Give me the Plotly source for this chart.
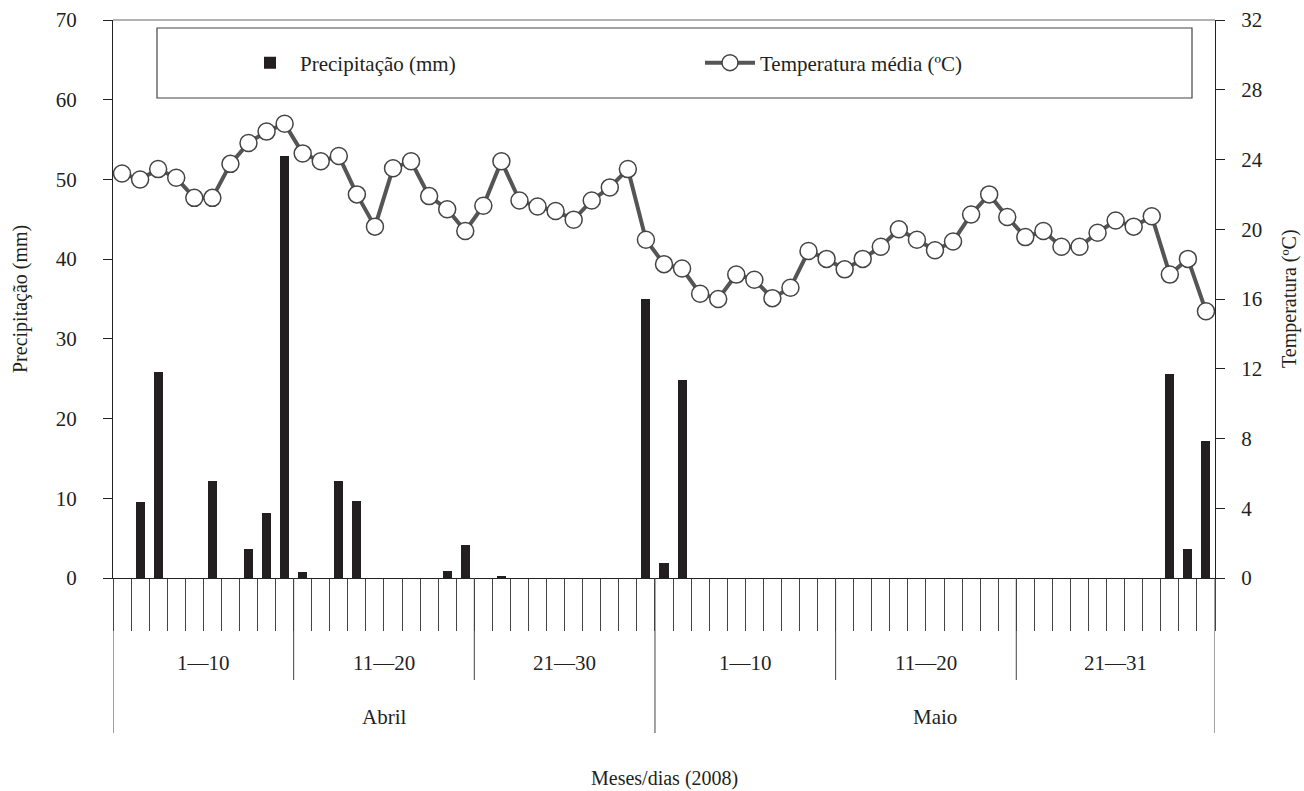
import plotly.graph_objects as go

# ---------------- data ----------------
months = ["Abril", "Maio"]
days_per_month = [30, 31]
groups = ["1—10", "11—20", "21—30", "1—10", "11—20", "21—31"]
group_sizes = [10, 10, 10, 10, 10, 11]

precip_abril = [0, 9.5, 25.8, 0, 0, 12.2, 0, 3.6, 8.1, 52.9,
                0.7, 0, 12.2, 9.7, 0, 0, 0, 0, 0.9, 4.2,
                0, 0.3, 0, 0, 0, 0, 0, 0, 0, 35.0]
precip_maio = [1.9, 24.9, 0, 0, 0, 0, 0, 0, 0, 0,
               0, 0, 0, 0, 0, 0, 0, 0, 0, 0,
               0, 0, 0, 0, 0, 0, 0, 0, 25.6, 3.7, 17.2]

temp_abril = [23.2, 22.85, 23.45, 22.95, 21.8, 21.8, 23.75, 24.95, 25.6, 26.05,
              24.35, 23.9, 24.2, 22.0, 20.15, 23.5, 23.9, 21.9, 21.15, 19.9,
              21.35, 23.9, 21.65, 21.3, 21.05, 20.55, 21.65, 22.4, 23.45, 19.4]
temp_maio = [18.0, 17.75, 16.3, 16.0, 17.4, 17.1, 16.05, 16.65, 18.75, 18.3,
             17.7, 18.3, 19.0, 20.0, 19.4, 18.8, 19.3, 20.85, 22.0, 20.7,
             19.55, 19.9, 19.0, 19.0, 19.8, 20.5, 20.15, 20.75, 17.4, 18.3, 15.3]

precip = precip_abril + precip_maio
temp = temp_abril + temp_maio
n_days = len(precip)
xpos = [i + 0.5 for i in range(n_days)]

FONT = "Liberation Serif"
TXT = "#231f20"

fig = go.Figure()
fig.add_trace(go.Bar(
    x=xpos, y=precip, width=0.5, name="Precipitação (mm)",
    marker=dict(color="#231f20", line=dict(width=0)), yaxis="y"))
fig.add_trace(go.Scatter(
    x=xpos, y=temp, mode="lines+markers", name="Temperatura média (ºC)",
    line=dict(color="#555555", width=4),
    marker=dict(size=17, color="white", line=dict(color="#444444", width=1.5)),
    yaxis="y2"))

shapes = []
annotations = []

month_bounds = [0]
for d in days_per_month:
    month_bounds.append(month_bounds[-1] + d)
group_bounds = [0]
for g in group_sizes:
    group_bounds.append(group_bounds[-1] + g)

H = 558.0
W = 1102.0
for b in group_bounds:
    if b in month_bounds:
        continue
    shapes.append(dict(type="line", xref="x", yref="paper", x0=b, x1=b,
                       y0=0, y1=-(680 - 578) / H, line=dict(color="#444", width=1)))
for b in month_bounds:
    shapes.append(dict(type="line", xref="x", yref="paper", x0=b, x1=b,
                       y0=0, y1=-(733 - 578) / H, line=dict(color="#444", width=1)))

for i, g in enumerate(groups):
    c = (group_bounds[i] + group_bounds[i + 1]) / 2
    annotations.append(dict(x=c, y=-(663 - 578) / H, xref="x", yref="paper",
                            text=g, showarrow=False, yanchor="middle",
                            font=dict(family=FONT, size=21, color=TXT)))
for i, m in enumerate(months):
    c = (month_bounds[i] + month_bounds[i + 1]) / 2
    annotations.append(dict(x=c, y=-(717 - 578) / H, xref="x", yref="paper",
                            text=m, showarrow=False, yanchor="middle",
                            font=dict(family=FONT, size=21, color=TXT)))
annotations.append(dict(x=(664 - 113) / W, y=-(778 - 578) / H, xref="paper", yref="paper",
                        text="Meses/dias (2008)", showarrow=False, yanchor="middle",
                        font=dict(family=FONT, size=20, color=TXT)))
annotations.append(dict(x=(20 - 113) / W, y=0.5, xref="paper", yref="paper",
                        text="Precipitação (mm)", showarrow=False, textangle=-90,
                        xanchor="center", yanchor="middle",
                        font=dict(family=FONT, size=20, color=TXT)))
annotations.append(dict(x=(1289 - 113) / W, y=0.5, xref="paper", yref="paper",
                        text="Temperatura (ºC)", showarrow=False, textangle=-90,
                        xanchor="center", yanchor="middle",
                        font=dict(family=FONT, size=20, color=TXT)))

shapes.append(dict(type="line", xref="paper", yref="paper", x0=0, x1=1, y0=1, y1=1,
                   line=dict(color="#999", width=1.5)))
shapes.append(dict(type="rect", xref="paper", yref="paper",
                   x0=(157 - 113) / W, x1=(1192 - 113) / W,
                   y0=(578 - 98) / H, y1=(578 - 28) / H,
                   line=dict(color="#444", width=1.2), fillcolor="rgba(0,0,0,0)"))

fig.update_layout(
    width=1304, height=791,
    margin=dict(l=113, r=89, t=20, b=213, autoexpand=False),
    paper_bgcolor="white", plot_bgcolor="white",
    font=dict(family=FONT, size=21, color=TXT),
    bargap=0,
    showlegend=True,
    legend=dict(orientation="h", x=(240 - 113) / W, y=(578 - 63) / H,
                xanchor="left", yanchor="middle",
                bgcolor="rgba(0,0,0,0)", borderwidth=0,
                font=dict(family=FONT, size=21, color=TXT),
                entrywidth=395, entrywidthmode="pixels", itemwidth=50),
    xaxis=dict(range=[0, n_days], tickvals=list(range(n_days + 1)),
               ticks="outside", ticklen=52, tickcolor="#444", tickwidth=1,
               showticklabels=False, showgrid=False, zeroline=False,
               showline=True, linecolor="#222", linewidth=1.2),
    yaxis=dict(range=[0, 70], dtick=10, ticks="outside", ticklen=9,
               tickcolor="#222", showgrid=False, zeroline=False,
               showline=True, linecolor="#222", linewidth=1.2,
               ticklabelstandoff=22,
               tickfont=dict(family=FONT, size=21, color=TXT)),
    yaxis2=dict(range=[0, 32], dtick=4, ticks="outside", ticklen=9,
                tickcolor="#222", showgrid=False, zeroline=False,
                overlaying="y", side="right", anchor="x",
                showline=True, linecolor="#222", linewidth=1.2,
                ticklabelstandoff=12,
                tickfont=dict(family=FONT, size=21, color=TXT)),
    yaxis3=dict(range=[0, 70], dtick=10, ticks="inside", ticklen=9,
                tickcolor="#222", showgrid=False, zeroline=False,
                overlaying="y", side="left", anchor="x",
                showticklabels=False, showline=False),
    yaxis4=dict(range=[0, 32], dtick=4, ticks="inside", ticklen=9,
                tickcolor="#222", showgrid=False, zeroline=False,
                overlaying="y", side="right", anchor="x",
                showticklabels=False, showline=False),
    shapes=shapes, annotations=annotations,
)

fig.write_html("out.html", config={"displayModeBar": False},
               post_script="document.body.style.margin='0';document.body.style.padding='0';")
